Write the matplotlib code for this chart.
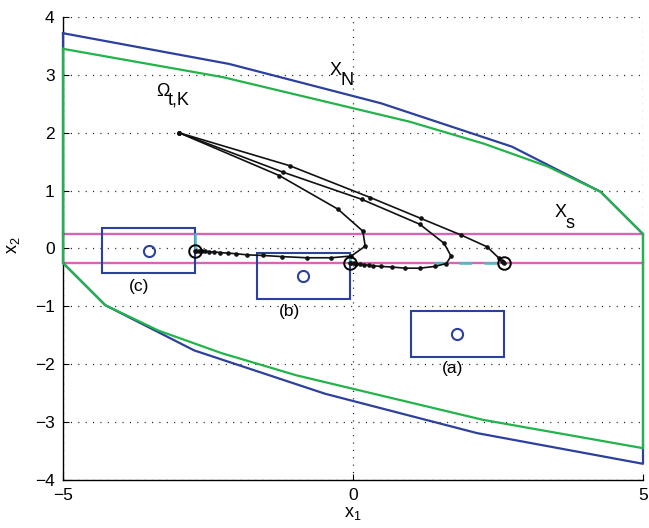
import matplotlib
matplotlib.use("Agg")
import matplotlib.pyplot as plt
from matplotlib.patches import Rectangle

plt.rcParams["font.family"] = ["Liberation Sans", "DejaVu Sans"]
plt.rcParams["mathtext.fontset"] = "custom"
plt.rcParams["mathtext.rm"] = "Liberation Sans"
plt.rcParams["mathtext.it"] = "Liberation Sans"
plt.rcParams["font.size"] = 12

# Maximal admissible set X_N (outer polygon)
xn_x = [-5, -2.14, 0.48, 2.74, 4.27, 5, 5, 2.14, -0.48, -2.74, -4.27, -5, -5]
xn_y = [3.72, 3.19, 2.51, 1.76, 0.98, 0.25, -3.72, -3.19, -2.51, -1.76, -0.98, -0.25, 3.72]

# Invariant set for tracking Omega_{t,K}
om_x = [-5, -2.24, 0.98, 2.26, 3.35, 4.27, 5, 5, 2.24, -0.98, -2.26, -3.35, -4.27, -5, -5]
om_y = [3.45, 2.96, 2.19, 1.81, 1.42, 0.98, 0.25, -3.45, -2.96, -2.19, -1.81, -1.42, -0.98, -0.25, 3.45]

# Steady-state band X_s
xs_bounds = [-0.25, 0.25]

# Target regions (centres) and their half extents
target_names = ["(a)", "(b)", "(c)"]
target_x = [1.80, -0.86, -3.52]
target_y = [-1.475, -0.48, -0.035]
half_w, half_h = 0.80, 0.395

# Closed-loop trajectories from x0 = (-3, 2)
traj_a_x = [-3.0, -1.09, 0.30, 1.17, 1.87, 2.31, 2.52, 2.57, 2.59, 2.60]
traj_a_y = [2.0, 1.43, 0.88, 0.52, 0.23, 0.03, -0.17, -0.22, -0.24, -0.25]

traj_b_x = [-3.0, -1.21, 0.15, 1.15, 1.57, 1.69, 1.61, 1.41, 1.15, 0.90, 0.67,
            0.49, 0.35, 0.27, 0.19, 0.12, 0.06, 0.01, -0.03, -0.06]
traj_b_y = [2.0, 1.32, 0.85, 0.42, 0.09, -0.13, -0.26, -0.31, -0.34, -0.34, -0.32,
            -0.31, -0.30, -0.29, -0.28, -0.27, -0.26, -0.255, -0.25, -0.25]

traj_c_x = [-3.0, -1.27, -0.26, 0.17, 0.21, -0.03, -0.38, -0.80, -1.22, -1.56, -1.82,
            -2.02, -2.16, -2.29, -2.39, -2.48, -2.55, -2.61, -2.66, -2.70, -2.72]
traj_c_y = [2.0, 1.26, 0.68, 0.30, 0.04, -0.13, -0.16, -0.16, -0.14, -0.12, -0.11,
            -0.09, -0.08, -0.07, -0.06, -0.055, -0.05, -0.045, -0.04, -0.037, -0.035]

# Terminal steady states
end_x = [2.60, -0.06, -2.72]
end_y = [-0.25, -0.25, -0.035]

# Admissible steady-state segments for each target
seg_a_x, seg_a_y = [1.40, 2.60], [-0.25, -0.25]
seg_b_x, seg_b_y = [-0.06, -0.06], [-0.25, -0.14]
seg_c_x, seg_c_y = [-2.72, -2.72], [0.25, -0.035]

BLUE = "#2c409e"
GREEN = "#22b44b"
MAGENTA = "#d765b6"
CYAN = "#45bfbf"

fig = plt.figure(figsize=(6.49, 5.28), dpi=100)
ax = fig.add_axes([63 / 649, 1 - 480 / 528, (643 - 63) / 649, (480 - 17) / 528])

ax.plot(xn_x, xn_y, color=BLUE, lw=1.6, zorder=3, clip_on=False)
ax.plot(om_x, om_y, color=GREEN, lw=1.6, zorder=4, clip_on=False)
for yb in xs_bounds:
    ax.plot([-5, 5], [yb, yb], color=MAGENTA, lw=1.7, zorder=2, clip_on=False)

for name, cx, cy in zip(target_names, target_x, target_y):
    ax.add_patch(Rectangle((cx - half_w, cy - half_h), 2 * half_w, 2 * half_h,
                           fill=False, edgecolor=BLUE, lw=1.5, zorder=5))
ax.plot(target_x, target_y, "o", ms=8, mfc="none", mec=BLUE, mew=1.5, ls="none", zorder=5)

ax.plot(seg_a_x, seg_a_y, color=CYAN, lw=1.8, ls=(0, (5, 5)), zorder=6)
ax.plot(seg_b_x, seg_b_y, color=CYAN, lw=1.8, zorder=6)
ax.plot(seg_c_x, seg_c_y, color=CYAN, lw=1.8, zorder=6)

for tx, ty in [(traj_a_x, traj_a_y), (traj_b_x, traj_b_y), (traj_c_x, traj_c_y)]:
    ax.plot(tx, ty, color="#111111", lw=1.2, marker="o", ms=2.3, zorder=7)
ax.plot(end_x, end_y, "o", ms=9, mfc="none", mec="black", mew=1.4, ls="none", zorder=8)

# Set labels
ax.text(1.72, -2.08, target_names[0], ha="center", va="center", fontsize=12.5)
ax.text(-1.09, -1.09, target_names[1], ha="center", va="center", fontsize=12.5)
ax.text(-3.68, -0.65, target_names[2], ha="center", va="center", fontsize=12.5)
ax.text(-0.295, 3.07, "X", ha="center", va="center", fontsize=13)
ax.text(-0.106, 2.90, "N", ha="center", va="center", fontsize=13)
ax.text(-3.28, 2.71, "\u03a9", ha="center", va="center", fontsize=13)
ax.text(-3.0, 2.57, "t,K", ha="center", va="center", fontsize=13)
ax.text(3.58, 0.62, "X", ha="center", va="center", fontsize=13)
ax.text(3.75, 0.435, "s", ha="center", va="center", fontsize=13)

ax.set_xlim(-5, 5)
ax.set_ylim(-4, 4)
ax.set_xticks([-5, 0, 5])
ax.set_yticks(range(-4, 5))
ax.tick_params(direction="in", length=4, width=0.8, pad=6, labelsize=12.5)
ax.grid(True, color="#222222", lw=0.9, linestyle=(0, (0.9, 5.0)))
ax.set_axisbelow(True)
for side in ("top", "right"):
    ax.spines[side].set_visible(False)
for side in ("left", "bottom"):
    ax.spines[side].set_linewidth(1.0)

fig.text(353 / 649, 1 - 514 / 528, r"$\mathregular{x_1}$", ha="center", va="center", fontsize=13)
fig.text(14 / 649, 1 - 245 / 528, r"$\mathregular{x_2}$", ha="center", va="center",
         rotation=90, fontsize=13)

fig.savefig("out.png", dpi=100)
